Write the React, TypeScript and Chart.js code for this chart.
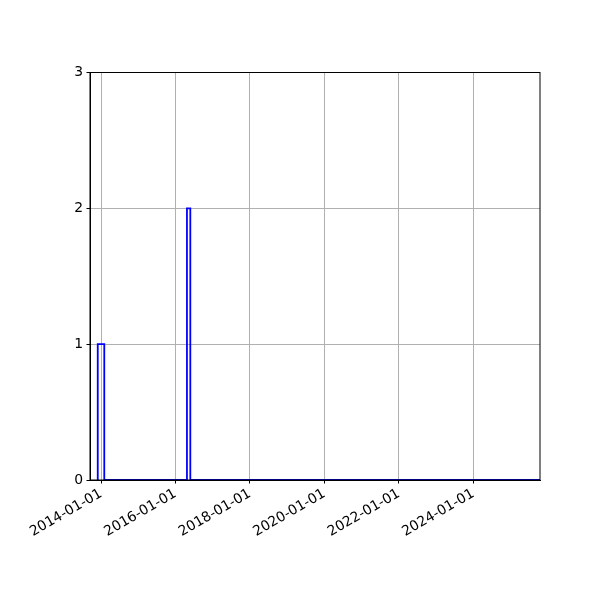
import React, { useEffect, useRef } from "react";
import { Chart, registerables } from "chart.js";

Chart.register(...registerables);

// Histogram bin edges (dates) and counts for each bin (step outline)
const binEdges: string[] = ["2013-11-30", "2014-02-02", "2016-04-23", "2016-05-26", "2026-01-01"];
const binCounts: number[] = [1, 0, 2, 0];
const xTickDates: string[] = ["2014-01-01", "2016-01-01", "2018-01-01", "2020-01-01", "2022-01-01", "2024-01-01"];
const yTicks: number[] = [0, 1, 2, 3];
const xMinDate = "2013-09-15";
const xMaxDate = "2025-10-16";

const toMs = (s: string) => {
  const [y, m, d] = s.split("-").map(Number);
  return Date.UTC(y, m - 1, d);
};
const fmt = (v: number) => {
  const d = new Date(v);
  const p = (n: number) => String(n).padStart(2, "0");
  return `${d.getUTCFullYear()}-${p(d.getUTCMonth() + 1)}-${p(d.getUTCDate())}`;
};

const framePlugin = {
  id: "frame",
  afterDraw(chart: any) {
    const { ctx, chartArea } = chart;
    ctx.save();
    ctx.strokeStyle = "#000";
    ctx.lineWidth = 1;
    ctx.strokeRect(chartArea.left, chartArea.top, chartArea.right - chartArea.left, chartArea.bottom - chartArea.top);
    ctx.restore();
  },
};

export default function App() {
  const ref = useRef<HTMLCanvasElement | null>(null);
  useEffect(() => {
    if (!ref.current) return;
    const pts: { x: number; y: number }[] = [];
    for (let i = 0; i < binCounts.length; i++) {
      const a = toMs(binEdges[i]);
      const b = toMs(binEdges[i + 1]);
      const prev = i === 0 ? 0 : binCounts[i - 1];
      pts.push({ x: a, y: prev });
      pts.push({ x: a, y: binCounts[i] });
      pts.push({ x: b, y: binCounts[i] });
    }
    pts.push({ x: toMs(binEdges[binEdges.length - 1]), y: 0 });
    const tickFont = { family: "'DejaVu Sans', sans-serif", size: 13.9 };
    const chart = new Chart(ref.current, {
      type: "line",
      data: {
        datasets: [
          {
            data: pts,
            borderColor: "#0000ff",
            borderWidth: 1.8,
            pointRadius: 0,
            fill: false,
            tension: 0,
          },
        ],
      },
      options: {
        animation: false,
        responsive: false,
        devicePixelRatio: 1,
        layout: { padding: { left: 0, right: 60, top: 72.5, bottom: 0 } },
        plugins: { legend: { display: false }, tooltip: { enabled: false } },
        scales: {
          x: {
            type: "linear",
            min: toMs(xMinDate),
            max: toMs(xMaxDate),
            afterBuildTicks: (scale: any) => {
              scale.ticks = xTickDates.map((s) => ({ value: toMs(s) }));
            },
            afterFit: (scale: any) => {
              scale.height = 120;
            },
            ticks: {
              autoSkip: false,
              minRotation: 30,
              maxRotation: 30,
              color: "#000",
              font: tickFont,
              padding: 2,
              callback: (v: any) => fmt(Number(v)),
            },
            grid: {
              color: "#b0b0b0",
              lineWidth: 1,
              tickColor: "#000",
              tickLength: 3.5,
              tickWidth: 1,
            },
            border: { display: true, color: "#000", width: 1 },
          },
          y: {
            type: "linear",
            min: 0,
            max: 3,
            afterBuildTicks: (scale: any) => {
              scale.ticks = yTicks.map((v) => ({ value: v }));
            },
            afterFit: (scale: any) => {
              scale.width = 90;
            },
            ticks: {
              color: "#000",
              font: tickFont,
              padding: 3.5,
              callback: (v: any) => String(v),
            },
            grid: {
              color: "#b0b0b0",
              lineWidth: 1,
              tickColor: "#000",
              tickLength: 3.5,
              tickWidth: 1,
            },
            border: { display: true, color: "#000", width: 1 },
          },
        },
      },
      plugins: [framePlugin],
    });
    return () => chart.destroy();
  }, []);
  return (
    <div style={{ position: "fixed", left: 0, top: 0, width: 600, height: 600, background: "#fff" }}>
      <canvas ref={ref} width={600} height={600} style={{ width: 600, height: 600 }} />
    </div>
  );
}
